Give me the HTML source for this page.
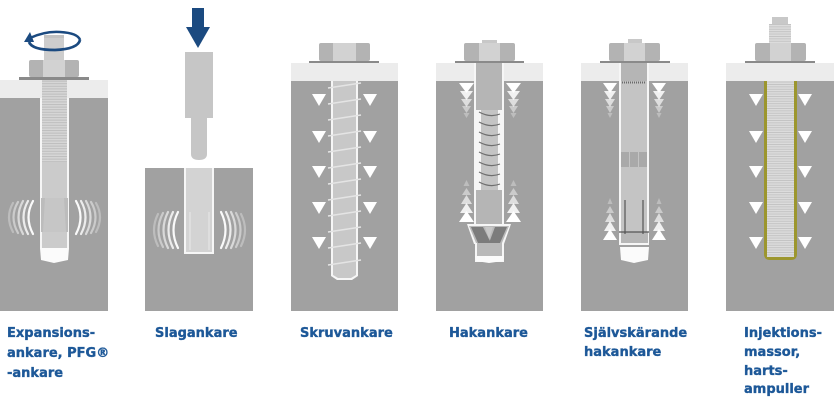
<!DOCTYPE html>
<html>
<head>
<meta charset="utf-8">
<style>
  html,body{margin:0;padding:0;background:#ffffff;}
  svg{display:block;}
  .lbl{font-family:"DejaVu Sans","Liberation Sans",sans-serif;font-weight:bold;font-size:13px;fill:#1d5898;stroke:#1d5898;stroke-width:0.35px;}
</style>
</head>
<body>
<svg width="834" height="400" viewBox="0 0 834 400" xmlns="http://www.w3.org/2000/svg">
  <defs>
    <pattern id="thr" x="0" y="0" width="4" height="2.6" patternUnits="userSpaceOnUse">
      <rect width="4" height="2.6" fill="#d6d6d6"/>
      <rect width="4" height="1" fill="#bdbdbd"/>
    </pattern>
    <pattern id="thr2" x="0" y="0" width="4" height="2.4" patternUnits="userSpaceOnUse">
      <rect width="4" height="2.4" fill="#dcdcdc"/>
      <rect width="4" height="0.9" fill="#c2c2c2"/>
    </pattern>
  </defs>
  <rect width="834" height="400" fill="#ffffff"/>

  <!-- ============ Panel 1: Expansionsankare ============ -->
  <rect x="0" y="80" width="108" height="18" fill="#ececec"/>
  <rect x="0" y="98" width="108" height="213" fill="#a1a1a1"/>
  <rect x="40" y="98" width="29" height="150" fill="#f6f6f6"/>
  <path d="M30,38 Q45,31 60,32 Q78,33 80,40" fill="none" stroke="#1b4a80" stroke-width="2.6"/>
  <rect x="44" y="35" width="20" height="26" fill="#cdcdcd"/>
  <rect x="44" y="35" width="20" height="3" fill="#c2c2c2"/>
  <path d="M80,40 Q78,49 55,50 Q32,50 29,42" fill="none" stroke="#1b4a80" stroke-width="2.8"/>
  <polygon points="24,42 30,32 34,42" fill="#1b4a80"/>
  <rect x="29" y="60" width="50" height="17" rx="2" fill="#b3b3b3"/>
  <rect x="43" y="60" width="22" height="17" fill="#d2d2d2"/>
  <rect x="19" y="77" width="70" height="3" fill="#8a8a8a"/>
  <rect x="42" y="80" width="25" height="82" fill="url(#thr)"/>
  <rect x="42" y="162" width="25" height="86" fill="#cbcbcb"/>
  <rect x="41" y="198" width="27" height="34" fill="#bcbcbc"/>
  <polygon points="45,198 64,198 66,232 43,232" fill="#c6c6c6"/>
  <polygon points="40,248 69,248 68,260 54,263 41,260" fill="#fbfbfb"/>
  <g fill="none" stroke-width="2.2" stroke-linecap="round">
    <path d="M33,201 Q24,217 33,234" stroke="#ffffff" stroke-opacity="0.95"/>
    <path d="M28,201 Q19,217 28,234" stroke="#ffffff" stroke-opacity="0.8"/>
    <path d="M23,201 Q14,217 23,234" stroke="#ffffff" stroke-opacity="0.6"/>
    <path d="M18,202 Q9,217 18,233" stroke="#ffffff" stroke-opacity="0.45"/>
    <path d="M13,203 Q5,217 13,232" stroke="#ffffff" stroke-opacity="0.3"/>
    <path d="M76,201 Q85,217 76,234" stroke="#ffffff" stroke-opacity="0.95"/>
    <path d="M81,201 Q90,217 81,234" stroke="#ffffff" stroke-opacity="0.8"/>
    <path d="M86,201 Q95,217 86,234" stroke="#ffffff" stroke-opacity="0.6"/>
    <path d="M91,202 Q100,217 91,233" stroke="#ffffff" stroke-opacity="0.45"/>
    <path d="M96,203 Q104,217 96,232" stroke="#ffffff" stroke-opacity="0.3"/>
  </g>

  <!-- ============ Panel 2: Slagankare ============ -->
  <rect x="192" y="8" width="12" height="21" fill="#1b4a80"/>
  <polygon points="186,27 210,27 198,48" fill="#1b4a80"/>
  <rect x="185" y="52" width="28" height="66" fill="#c6c6c6"/>
  <path d="M191,118 L207,118 L207,154 Q207,160 199,160 Q191,160 191,154 Z" fill="#c6c6c6"/>
  <rect x="145" y="168" width="108" height="143" fill="#a1a1a1"/>
  <rect x="184" y="168" width="30" height="86" fill="#f6f6f6"/>
  <rect x="186" y="168" width="26" height="84" fill="#d3d3d3"/>
  <line x1="190" y1="212" x2="190" y2="250" stroke="#e8e8e8" stroke-width="1"/>
  <line x1="209" y1="212" x2="209" y2="250" stroke="#e8e8e8" stroke-width="1"/>
  <g fill="none" stroke-width="2.2" stroke-linecap="round">
    <path d="M178,212 Q169,230 178,248" stroke="#ffffff" stroke-opacity="0.95"/>
    <path d="M173,212 Q164,230 173,248" stroke="#ffffff" stroke-opacity="0.8"/>
    <path d="M168,212 Q159,230 168,248" stroke="#ffffff" stroke-opacity="0.6"/>
    <path d="M163,213 Q154,230 163,247" stroke="#ffffff" stroke-opacity="0.45"/>
    <path d="M158,214 Q150,230 158,246" stroke="#ffffff" stroke-opacity="0.3"/>
    <path d="M221,212 Q230,230 221,248" stroke="#ffffff" stroke-opacity="0.95"/>
    <path d="M226,212 Q235,230 226,248" stroke="#ffffff" stroke-opacity="0.8"/>
    <path d="M231,212 Q240,230 231,248" stroke="#ffffff" stroke-opacity="0.6"/>
    <path d="M236,213 Q245,230 236,247" stroke="#ffffff" stroke-opacity="0.45"/>
    <path d="M241,214 Q249,230 241,246" stroke="#ffffff" stroke-opacity="0.3"/>
  </g>

  <!-- ============ Panel 3: Skruvankare ============ -->
  <rect x="291" y="63" width="107" height="18" fill="#ececec"/>
  <rect x="291" y="81" width="107" height="230" fill="#a1a1a1"/>
  <rect x="319" y="43" width="51" height="18" rx="2" fill="#b3b3b3"/>
  <rect x="333" y="43" width="23" height="18" fill="#d2d2d2"/>
  <rect x="309" y="61" width="70" height="2" fill="#8a8a8a"/>
  <path d="M331,81 L358,81 L358,276 L352,280 L337,280 L331,276 Z" fill="#f6f6f6"/>
  <path d="M333,81 L356,81 L356,275 L351,278 L338,278 L333,275 Z" fill="#c8c8c8"/>
  <g stroke="#e4e4e4" stroke-width="1.6">
    <line x1="328" y1="88" x2="361" y2="83"/>
    <line x1="328" y1="104" x2="361" y2="99"/>
    <line x1="328" y1="120" x2="361" y2="115"/>
    <line x1="328" y1="136" x2="361" y2="131"/>
    <line x1="328" y1="152" x2="361" y2="147"/>
    <line x1="328" y1="168" x2="361" y2="163"/>
    <line x1="328" y1="184" x2="361" y2="179"/>
    <line x1="328" y1="200" x2="361" y2="195"/>
    <line x1="328" y1="216" x2="361" y2="211"/>
    <line x1="328" y1="232" x2="361" y2="227"/>
    <line x1="328" y1="248" x2="361" y2="243"/>
    <line x1="328" y1="265" x2="361" y2="260"/>
  </g>
  <g fill="#ffffff">
    <polygon points="312,94 326,94 319,106"/><polygon points="363,94 377,94 370,106"/>
    <polygon points="312,131 326,131 319,143"/><polygon points="363,131 377,131 370,143"/>
    <polygon points="312,166 326,166 319,178"/><polygon points="363,166 377,166 370,178"/>
    <polygon points="312,202 326,202 319,214"/><polygon points="363,202 377,202 370,214"/>
    <polygon points="312,237 326,237 319,249"/><polygon points="363,237 377,237 370,249"/>
  </g>

  <!-- ============ Panel 4: Hakankare ============ -->
  <rect x="436" y="63" width="107" height="18" fill="#ececec"/>
  <rect x="436" y="81" width="107" height="230" fill="#a1a1a1"/>
  <rect x="482" y="40" width="15" height="4" fill="#c8c8c8"/>
  <rect x="464" y="43" width="51" height="18" rx="2" fill="#b3b3b3"/>
  <rect x="479" y="43" width="21" height="18" fill="#d2d2d2"/>
  <rect x="455" y="61" width="69" height="2" fill="#8a8a8a"/>
  <rect x="474" y="63" width="30" height="162" fill="#f6f6f6"/>
  <rect x="476" y="63" width="26" height="47" fill="#b5b5b5"/>
  <rect x="481" y="110" width="17" height="80" fill="#c4c4c4"/>
  <g fill="none" stroke="#6e6e6e" stroke-width="1.2">
    <path d="M479,112 Q490,118 500,114"/>
    <path d="M479,122 Q490,128 500,124"/>
    <path d="M479,132 Q490,138 500,134"/>
    <path d="M479,142 Q490,148 500,144"/>
    <path d="M479,152 Q490,158 500,154"/>
    <path d="M479,162 Q490,168 500,164"/>
    <path d="M479,172 Q490,178 500,174"/>
    <path d="M479,182 Q490,188 500,184"/>
  </g>
  <rect x="476" y="190" width="26" height="35" fill="#b5b5b5"/>
  <polygon points="467,224 511,224 504,244 474,244" fill="#f6f6f6"/>
  <polygon points="469,226 509,226 502,243 476,243" fill="#b9b9b9"/>
  <polygon points="471,227 483,227 491,243 478,243" fill="#7c7c7c"/>
  <polygon points="507,227 495,227 489,243 500,243" fill="#7c7c7c"/>
  <polygon points="485,227 493,227 489,239" fill="#c8c8c8"/>
  <rect x="475" y="243" width="29" height="19" fill="#f6f6f6"/>
  <rect x="477" y="243" width="25" height="13" fill="#b9b9b9"/>
  <polygon points="475,256 504,256 503,261 489,263 476,261" fill="#fbfbfb"/>
  <g fill="#ffffff">
    <polygon points="459,83 474,83 466.5,93"/><polygon points="506,83 521,83 513.5,93"/>
    <polygon points="460,91 473,91 466.5,100" fill-opacity="0.85"/><polygon points="507,91 520,91 513.5,100" fill-opacity="0.85"/>
    <polygon points="461,99 472,99 466.5,107" fill-opacity="0.65"/><polygon points="508,99 519,99 513.5,107" fill-opacity="0.65"/>
    <polygon points="462,106 471,106 466.5,113" fill-opacity="0.45"/><polygon points="509,106 518,106 513.5,113" fill-opacity="0.45"/>
    <polygon points="463.5,113 469.5,113 466.5,118" fill-opacity="0.3"/><polygon points="510.5,113 516.5,113 513.5,118" fill-opacity="0.3"/>
  </g>
  <g fill="#ffffff">
    <polygon points="459,222 474,222 466.5,211"/><polygon points="506,222 521,222 513.5,211"/>
    <polygon points="460,213 473,213 466.5,203" fill-opacity="0.85"/><polygon points="507,213 520,213 513.5,203" fill-opacity="0.85"/>
    <polygon points="461,204 472,204 466.5,195" fill-opacity="0.65"/><polygon points="508,204 519,204 513.5,195" fill-opacity="0.65"/>
    <polygon points="462,195 471,195 466.5,188" fill-opacity="0.45"/><polygon points="509,195 518,195 513.5,188" fill-opacity="0.45"/>
    <polygon points="463.5,186 469.5,186 466.5,180" fill-opacity="0.3"/><polygon points="510.5,186 516.5,186 513.5,180" fill-opacity="0.3"/>
  </g>

  <!-- ============ Panel 5: Självskärande hakankare ============ -->
  <rect x="581" y="63" width="107" height="18" fill="#ececec"/>
  <rect x="581" y="81" width="107" height="230" fill="#a1a1a1"/>
  <rect x="628" y="39" width="14" height="5" fill="#c8c8c8"/>
  <rect x="609" y="43" width="51" height="18" rx="2" fill="#b3b3b3"/>
  <rect x="624" y="43" width="21" height="18" fill="#d2d2d2"/>
  <rect x="600" y="61" width="70" height="2" fill="#8a8a8a"/>
  <rect x="619" y="63" width="30" height="182" fill="#f6f6f6"/>
  <rect x="621" y="63" width="26" height="180" fill="#c4c4c4"/>
  <rect x="621" y="63" width="26" height="18" fill="#b5b5b5"/>
  <line x1="622" y1="82.5" x2="646" y2="82.5" stroke="#6a6a6a" stroke-width="2" stroke-dasharray="1,1"/>
  <rect x="621" y="152" width="8" height="15" fill="#a9a9a9"/>
  <rect x="630" y="152" width="8" height="15" fill="#a9a9a9"/>
  <rect x="639" y="152" width="8" height="15" fill="#a9a9a9"/>
  <rect x="621" y="232" width="27" height="11" fill="#b7b7b7"/>
  <line x1="625" y1="200" x2="625" y2="234" stroke="#555" stroke-width="1.2"/>
  <line x1="643" y1="200" x2="643" y2="234" stroke="#555" stroke-width="1.2"/>
  <line x1="619" y1="232" x2="649" y2="232" stroke="#555" stroke-width="1.2"/>
  <polygon points="620,247 649,247 648,260 634,263 621,260" fill="#fbfbfb"/>
  <g fill="#ffffff">
    <polygon points="603,83 617,83 610,93"/><polygon points="652,83 666,83 659,93"/>
    <polygon points="604,91 616,91 610,100" fill-opacity="0.85"/><polygon points="653,91 665,91 659,100" fill-opacity="0.85"/>
    <polygon points="605,99 615,99 610,107" fill-opacity="0.65"/><polygon points="654,99 664,99 659,107" fill-opacity="0.65"/>
    <polygon points="606,106 614,106 610,113" fill-opacity="0.45"/><polygon points="655,106 663,106 659,113" fill-opacity="0.45"/>
    <polygon points="607.5,113 612.5,113 610,118" fill-opacity="0.3"/><polygon points="656.5,113 661.5,113 659,118" fill-opacity="0.3"/>
  </g>
  <g fill="#ffffff">
    <polygon points="603,240 617,240 610,229"/><polygon points="652,240 666,240 659,229"/>
    <polygon points="604,231 616,231 610,221" fill-opacity="0.85"/><polygon points="653,231 665,231 659,221" fill-opacity="0.85"/>
    <polygon points="605,222 615,222 610,213" fill-opacity="0.65"/><polygon points="654,222 664,222 659,213" fill-opacity="0.65"/>
    <polygon points="606,213 614,213 610,206" fill-opacity="0.45"/><polygon points="655,213 663,213 659,206" fill-opacity="0.45"/>
    <polygon points="607.5,204 612.5,204 610,198" fill-opacity="0.3"/><polygon points="656.5,204 661.5,204 659,198" fill-opacity="0.3"/>
  </g>

  <!-- ============ Panel 6: Injektionsmassor ============ -->
  <rect x="726" y="63" width="108" height="18" fill="#ececec"/>
  <rect x="726" y="81" width="108" height="230" fill="#a1a1a1"/>
  <rect x="772" y="17" width="16" height="8" fill="#c8c8c8"/>
  <rect x="769" y="24" width="22" height="20" fill="url(#thr2)"/>
  <rect x="755" y="43" width="51" height="18" rx="2" fill="#b3b3b3"/>
  <rect x="770" y="43" width="21" height="18" fill="#d2d2d2"/>
  <rect x="745" y="61" width="70" height="2" fill="#8a8a8a"/>
  <path d="M764,81 L797,81 L797,254 Q797,260 791,260 L770,260 Q764,260 764,254 Z" fill="#9c962e"/>
  <rect x="767" y="81" width="27" height="176" fill="url(#thr2)"/>
  <g fill="#ffffff">
    <polygon points="749,94 763,94 756,106"/><polygon points="798,94 812,94 805,106"/>
    <polygon points="749,131 763,131 756,143"/><polygon points="798,131 812,131 805,143"/>
    <polygon points="749,166 763,166 756,178"/><polygon points="798,166 812,166 805,178"/>
    <polygon points="749,202 763,202 756,214"/><polygon points="798,202 812,202 805,214"/>
    <polygon points="749,237 763,237 756,249"/><polygon points="798,237 812,237 805,249"/>
  </g>

  <!-- ============ Labels ============ -->
  <text class="lbl" x="7" y="337">Expansions-</text>
  <text class="lbl" x="7" y="357">ankare, PFG®</text>
  <text class="lbl" x="7" y="377">-ankare</text>

  <text class="lbl" x="155" y="337">Slagankare</text>

  <text class="lbl" x="300" y="337">Skruvankare</text>

  <text class="lbl" x="449" y="337">Hakankare</text>

  <text class="lbl" x="584" y="337">Självskärande</text>
  <text class="lbl" x="584" y="356">hakankare</text>

  <text class="lbl" x="744" y="337">Injektions-</text>
  <text class="lbl" x="744" y="356">massor,</text>
  <text class="lbl" x="744" y="375">harts-</text>
  <text class="lbl" x="744" y="393">ampuller</text>
</svg>
</body>
</html>
